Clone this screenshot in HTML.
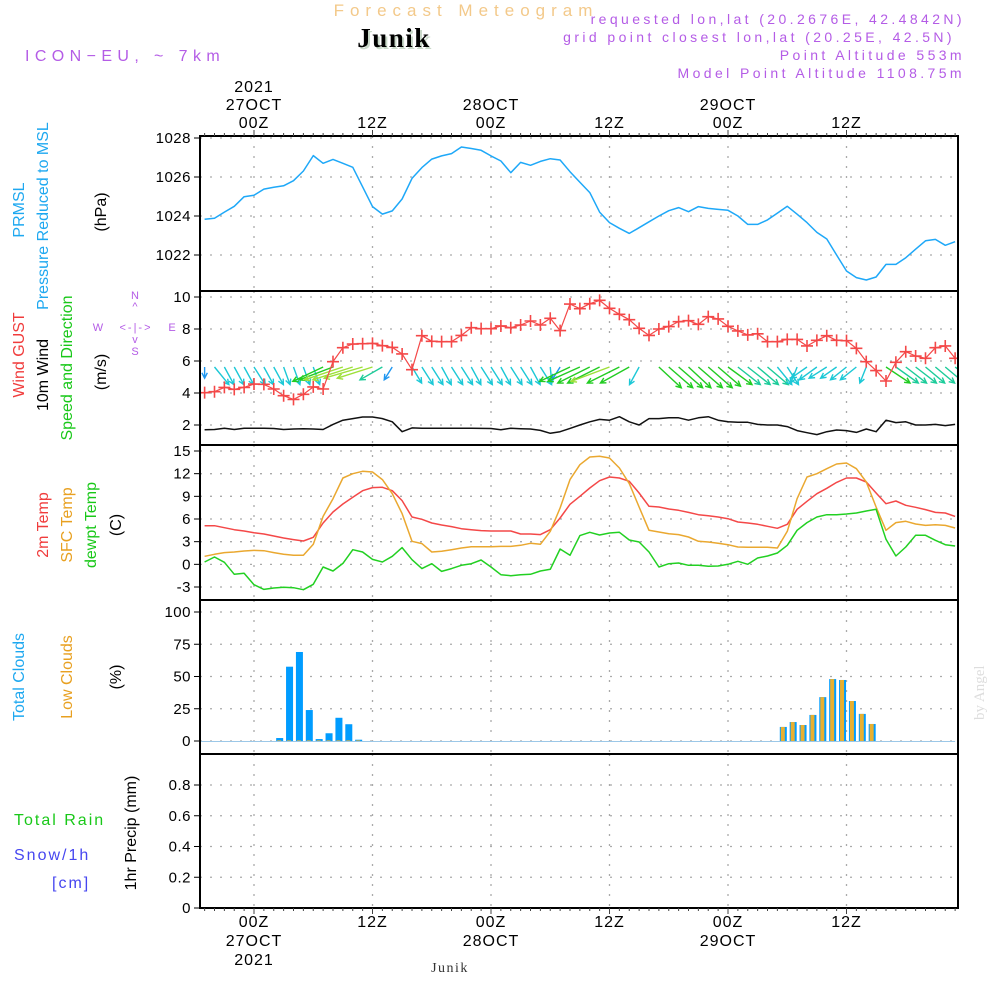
<!DOCTYPE html>
<html><head><meta charset="utf-8"><style>
html,body{margin:0;padding:0;background:#fff;}
svg{display:block;font-family:"Liberation Sans",sans-serif;}
</style></head><body>
<svg id="chart" width="1000" height="1000" viewBox="0 0 1000 1000">
<defs><clipPath id="plotclip"><rect x="200" y="136" width="758" height="772"/></clipPath></defs>
<g id="titles">
<text x="466" y="16" text-anchor="middle" font-size="17" fill="#f3c98a" letter-spacing="6">Forecast Meteogram</text>
<text x="396" y="49" text-anchor="middle" font-size="27" font-weight="bold" font-family="Liberation Serif,serif" fill="#c9d9c9" letter-spacing="1.5">Junik</text>
<text x="394" y="47" text-anchor="middle" font-size="27" font-weight="bold" font-family="Liberation Serif,serif" fill="#000" letter-spacing="1.5">Junik</text>
<text x="25" y="61" font-size="16" fill="#b45ce6" letter-spacing="5.4">ICON−EU, ~ 7km</text>
<text x="965" y="24" text-anchor="end" font-size="14" fill="#b45ce6" letter-spacing="3.4">requested lon,lat (20.2676E, 42.4842N)</text>
<text x="955" y="42" text-anchor="end" font-size="14" fill="#b45ce6" letter-spacing="3.4">grid point closest lon,lat (20.25E, 42.5N)</text>
<text x="965" y="60" text-anchor="end" font-size="14" fill="#b45ce6" letter-spacing="3.4">Point Altitude 553m</text>
<text x="965" y="78" text-anchor="end" font-size="14" fill="#b45ce6" letter-spacing="3.4">Model Point Altitude 1108.75m</text>
<text x="450" y="972" text-anchor="middle" font-size="14" font-family="Liberation Serif,serif" fill="#333" letter-spacing="1.5">Junik</text>
<text transform="translate(984,720) rotate(-90)" font-size="15" font-family="Liberation Serif,serif" fill="#ddd">by Angel</text>
</g>
<g id="leftlabels" font-size="16">
<text transform="translate(24,210) rotate(-90)" text-anchor="middle" fill="#1ea8f0">PRMSL</text>
<text transform="translate(48,216) rotate(-90)" text-anchor="middle" fill="#1ea8f0">Pressure Reduced to MSL</text>
<text transform="translate(106,212) rotate(-90)" text-anchor="middle" fill="#000">(hPa)</text>
<text transform="translate(24,355) rotate(-90)" text-anchor="middle" fill="#f03c3c">Wind GUST</text>
<text transform="translate(48,375) rotate(-90)" text-anchor="middle" fill="#000">10m Wind</text>
<text transform="translate(72,368) rotate(-90)" text-anchor="middle" fill="#19c819">Speed and Direction</text>
<text transform="translate(106,372) rotate(-90)" text-anchor="middle" fill="#000">(m/s)</text>
<g fill="#b45ce6" font-size="11">
<text x="135" y="299" text-anchor="middle">N</text><text x="135" y="310" text-anchor="middle">^</text>
<text x="136" y="331" text-anchor="middle" letter-spacing="2">&lt;-|-&gt;</text>
<text x="98" y="331" text-anchor="middle">W</text><text x="172" y="331" text-anchor="middle">E</text>
<text x="135" y="343" text-anchor="middle">v</text><text x="135" y="355" text-anchor="middle">S</text>
</g>
<text transform="translate(48,525) rotate(-90)" text-anchor="middle" fill="#f03c3c">2m Temp</text>
<text transform="translate(72,525) rotate(-90)" text-anchor="middle" fill="#e8a020">SFC Temp</text>
<text transform="translate(96,525) rotate(-90)" text-anchor="middle" fill="#19c819">dewpt Temp</text>
<text transform="translate(121,525) rotate(-90)" text-anchor="middle" fill="#000">(C)</text>
<text transform="translate(24,677) rotate(-90)" text-anchor="middle" fill="#1ea8f0">Total Clouds</text>
<text transform="translate(72,677) rotate(-90)" text-anchor="middle" fill="#e8a020">Low Clouds</text>
<text transform="translate(121,677) rotate(-90)" text-anchor="middle" fill="#000">(%)</text>
<text x="14" y="825" fill="#19c819" letter-spacing="2">Total  Rain</text>
<text x="14" y="860" fill="#4646f0" letter-spacing="2">Snow/1h</text>
<text x="52" y="888" fill="#4646f0" letter-spacing="2">[cm]</text>
<text transform="translate(136,833) rotate(-90)" text-anchor="middle" fill="#000">1hr Precip (mm)</text>
</g>
<g id="grid"></g>
<g id="marks" clip-path="url(#plotclip)"></g>
<g id="axes"></g>
</svg>
<script>
// ---- data (hourly, first value at hour -5 relative to 27OCT 00Z) ----
const startHour = -5;
const dayTicks = [0, 12, 24, 36, 48, 60];
const topTickLabels = ["00Z", "12Z", "00Z", "12Z", "00Z", "12Z"];
const dateLabels = ["27OCT", "", "28OCT", "", "29OCT", ""];
const pressureTicks = [1022, 1024, 1026, 1028];
const windTicks = [2, 4, 6, 8, 10];
const tempTicks = [-3, 0, 3, 6, 9, 12, 15];
const cloudTicks = [0, 25, 50, 75, 100];
const precipTicks = [0, 0.2, 0.4, 0.6, 0.8];

const pressure = [1023.83,1023.88,1024.2,1024.5,1024.99,1025.06,1025.38,1025.47,1025.55,1025.81,1026.31,1027.1,1026.7,1026.9,1026.7,1026.5,1025.5,1024.48,1024.1,1024.26,1024.87,1025.93,1026.48,1026.92,1027.08,1027.2,1027.54,1027.46,1027.37,1027.08,1026.82,1026.22,1026.75,1026.6,1026.8,1026.94,1026.87,1026.27,1025.73,1025.2,1024.2,1023.66,1023.37,1023.11,1023.4,1023.7,1024.0,1024.27,1024.43,1024.22,1024.48,1024.39,1024.34,1024.29,1024.0,1023.57,1023.57,1023.8,1024.15,1024.5,1024.09,1023.66,1023.16,1022.82,1022.0,1021.18,1020.84,1020.72,1020.87,1021.52,1021.52,1021.86,1022.3,1022.73,1022.8,1022.5,1022.68];
const gust = [4.02,4.08,4.35,4.23,4.35,4.56,4.54,4.25,3.83,3.6,3.92,4.38,4.25,5.96,6.83,7.06,7.08,7.1,6.96,6.85,6.44,5.46,7.58,7.23,7.21,7.21,7.6,8.08,8.02,8.02,8.19,8.08,8.25,8.5,8.25,8.67,7.9,9.56,9.27,9.58,9.79,9.29,8.92,8.58,8.04,7.6,8.0,8.15,8.46,8.52,8.29,8.77,8.63,8.17,7.88,7.63,7.7,7.21,7.21,7.35,7.35,6.94,7.29,7.58,7.29,7.27,6.79,5.96,5.4,4.75,5.92,6.58,6.31,6.17,6.83,6.94,6.17];
const wind10 = [1.7,1.72,1.8,1.72,1.8,1.8,1.8,1.78,1.72,1.75,1.76,1.75,1.72,2.04,2.3,2.4,2.5,2.5,2.4,2.2,1.58,1.82,1.8,1.8,1.8,1.8,1.8,1.8,1.79,1.78,1.7,1.8,1.77,1.75,1.66,1.48,1.58,1.79,2.0,2.2,2.35,2.3,2.52,2.2,2.0,2.4,2.4,2.45,2.45,2.3,2.45,2.52,2.3,2.2,2.17,2.17,2.04,2.0,2.0,1.9,1.65,1.52,1.4,1.58,1.69,1.65,1.54,1.75,1.58,2.3,2.15,2.2,2.0,2.0,2.04,1.96,2.04];
const windU = [0,0.9,0.6,0.6,0.6,0.7,0.6,0.6,0.4,0.4,0.4,0.4,-1.9,-2.1,-2.4,-2.5,-2.4,-2.2,-1.4,-0.5,0,0.6,0.7,0.7,0.6,0.7,0.7,0.6,0.7,0.7,0.6,0.7,0.7,0.6,0.7,0.1,-0.5,-1.9,-2.0,-2.0,-2.0,-2.4,-2.0,-1.8,-0.6,0,1.4,1.5,1.5,1.4,1.5,1.5,1.4,1.5,1.4,1.4,1.3,1.3,0.9,0.7,-0.4,-1.0,-1.1,-1.1,-1.0,-1.0,-1.0,-0.4,0,1.5,1.4,1.3,1.3,1.2,1.2,1.2,1.3];
const windV = [-0.7,-1.1,-1.1,-1.1,-1.1,-1.1,-1.1,-1.1,-1.1,-1.1,-1.1,-1.1,-0.9,-0.8,-0.8,-0.8,-0.7,-0.7,-0.8,-0.8,0,-1.0,-1.1,-1.1,-1.1,-1.1,-1.1,-1.1,-1.1,-1.1,-1.1,-1.1,-1.1,-1.1,-1.1,-1.0,-0.8,-0.9,-0.9,-1.0,-1.0,-0.9,-1.0,-1.0,-1.1,0,-1.3,-1.3,-1.3,-1.3,-1.3,-1.3,-1.2,-1.1,-1.1,-1.1,-1.1,-1.1,-1.1,-1.1,-1.0,-0.7,-0.8,-0.7,-0.7,-0.8,-0.8,-1.0,0,-1.0,-1.0,-1.0,-1.0,-1.0,-1.0,-1.0,-1.0];
const temp2m = [5.12,5.12,4.85,4.59,4.41,4.19,4.02,3.75,3.49,3.27,3.09,3.58,5.47,6.93,7.99,8.87,9.75,10.15,10.19,9.75,8.43,6.27,5.96,5.47,5.21,4.99,4.72,4.59,4.46,4.41,4.41,4.41,4.02,4.02,3.93,4.59,6.13,7.94,9.0,10.1,11.07,11.56,11.43,10.99,9.44,7.68,7.59,7.32,7.15,6.88,6.57,6.44,6.27,6.04,5.6,5.47,5.3,5.03,4.77,5.3,7.28,8.34,9.35,10.06,10.85,11.43,11.43,10.9,9.44,8.03,8.38,7.81,7.55,7.24,6.88,6.8,6.35];
const sfcTemp = [1.06,1.33,1.55,1.63,1.77,1.85,1.81,1.55,1.33,1.19,1.19,2.65,6.35,8.69,11.43,12.0,12.31,12.22,11.21,9.35,6.71,3.05,2.74,1.63,1.72,1.94,2.16,2.34,2.34,2.34,2.38,2.38,2.52,2.78,2.65,4.37,7.46,11.21,13.19,14.2,14.3,14.07,12.75,10.68,7.59,4.5,4.28,4.06,3.93,3.62,3.05,2.96,2.78,2.6,2.3,2.25,2.25,2.25,2.16,4.37,8.69,11.56,12.0,12.66,13.28,13.41,12.66,10.9,7.59,4.5,5.52,5.69,5.34,5.16,5.25,5.16,4.81];
const dewpt = [0.31,0.97,0.27,-1.32,-1.19,-2.69,-3.31,-3.13,-3.04,-3.09,-3.35,-2.64,-0.35,-0.88,0.13,1.94,1.63,0.66,0.31,1.06,2.21,0.62,-0.57,0.09,-0.93,-0.57,-0.13,0.09,0.57,-0.35,-1.37,-1.5,-1.37,-1.32,-0.88,-0.66,2.03,1.19,3.8,4.24,3.88,4.15,4.24,3.22,2.96,1.63,-0.35,0.09,0.18,-0.13,-0.13,-0.26,-0.22,0,0.4,0,0.84,1.1,1.5,2.52,4.5,5.52,6.27,6.57,6.57,6.66,6.8,7.06,7.28,3.31,1.1,2.3,3.84,3.84,3.18,2.6,2.43];
const totalClouds = [0,0,0,0,0,0,0,0,2.3,57.6,69,24,1.5,6,18,13,1,0,0,0,0,0,0,0,0,0,0,0,0,0,0,0,0,0,0,0,0,0,0,0,0,0,0,0,0,0,0,0,0,0,0,0,0,0,0,0,0,0,0,10.9,14.7,12.4,20.2,34,48,47.3,31,21,13.2,0,0,0,0,0,0,0,0];
const lowClouds = [0,0,0,0,0,0,0,0,0.5,0.5,0.5,0.5,0.5,0.5,0.5,0.5,0.5,0,0,0,0,0,0,0,0,0,0,0,0,0,0,0,0,0,0,0,0,0,0,0,0,0,0,0,0,0,0,0,0,0,0,0,0,0,0,0,0,0,0,10.9,14.7,12.4,20.2,34,48,47.3,31,21,13.2,0,0,0,0,0,0,0,0];
const precip = [0,0,0,0,0,0,0,0,0,0,0,0,0,0,0,0,0,0,0,0,0,0,0,0,0,0,0,0,0,0,0,0,0,0,0,0,0,0,0,0,0,0,0,0,0,0,0,0,0,0,0,0,0,0,0,0,0,0,0,0,0,0,0,0,0,0,0,0,0,0,0,0,0,0,0,0,0];

// ---- scales ----
const X0 = 200, X1 = 958;
const xH = h => 254 + h * 9.875;
const yP = v => 138 + (1028 - v) * 19.5;
const yW = v => 297 + (10 - v) * 16;
const yT = v => 451 + (15 - v) * 7.556;
const yC = v => 741 - v * 1.29;
const yR = v => 908 - v * 153.75;
const panels = [
  {top:136,bot:291,ticks:pressureTicks,y:yP,fmt:v=>String(v),name:'pressure'},
  {top:291,bot:445,ticks:windTicks,y:yW,fmt:v=>String(v),name:'wind'},
  {top:445,bot:600,ticks:tempTicks,y:yT,fmt:v=>String(v),name:'temp'},
  {top:600,bot:754,ticks:cloudTicks,y:yC,fmt:v=>String(v),name:'clouds'},
  {top:754,bot:908,ticks:precipTicks,y:yR,fmt:v=>v===0?'0':v.toFixed(1),name:'precip'}
];
const NS = 'http://www.w3.org/2000/svg';
function mk(tag, attrs, parent) {
  const e = document.createElementNS(NS, tag);
  for (const k in attrs) e.setAttribute(k, attrs[k]);
  parent.appendChild(e);
  return e;
}
const grid = document.getElementById('grid');
const marks = document.getElementById('marks');
const axes = document.getElementById('axes');

panels.forEach(p => {
  dayTicks.forEach(h => {
    const l = mk('line', {x1:xH(h), x2:xH(h), y1:p.top, y2:p.bot, stroke:'#aaa', 'stroke-width':1.3, 'stroke-dasharray':'2,8'}, grid);
    
    
  });
  p.ticks.forEach(v => {
    const y = p.y(v);
    const g = mk('line', {x1:X0, x2:X1, y1:y, y2:y, stroke:'#aaa', 'stroke-width':1.3, 'stroke-dasharray':'2,8'}, grid);
    
    
    mk('line', {x1:X0-6, x2:X0, y1:y, y2:y, stroke:'#000', 'stroke-width':1}, axes);
    const t = mk('text', {x:X0-9, y:y+5, 'text-anchor':'end', 'font-size':15, fill:'#000', 'letter-spacing':0.5}, axes);
    t.textContent = p.fmt(v);
    
    
  });
  const r = mk('rect', {x:X0, y:p.top, width:X1-X0, height:p.bot-p.top, fill:'none', stroke:'#000', 'stroke-width':2}, axes);
  
  
});
for (let h = startHour; h <= 71; h++) {
  const len = (h % 12 === 0) ? 6 : 3;
  mk('line', {x1:xH(h), x2:xH(h), y1:136, y2:136 - len, stroke:'#444', 'stroke-width':1}, axes);
  mk('line', {x1:xH(h), x2:xH(h), y1:908, y2:908 + len, stroke:'#444', 'stroke-width':1}, axes);
}
dayTicks.forEach((h, i) => {
  const t1 = mk('text', {x:xH(h), y:128, 'text-anchor':'middle', 'font-size':16, fill:'#000', 'letter-spacing':1}, axes);
  t1.textContent = topTickLabels[i];
  
  
  const b1 = mk('text', {x:xH(h), y:927, 'text-anchor':'middle', 'font-size':16, fill:'#000', 'letter-spacing':1}, axes);
  b1.textContent = topTickLabels[i];
  
  
  if (dateLabels[i]) {
    const t2 = mk('text', {x:xH(h), y:110, 'text-anchor':'middle', 'font-size':16, fill:'#000', 'letter-spacing':1}, axes);
    t2.textContent = dateLabels[i];
    
    
    const b2 = mk('text', {x:xH(h), y:946, 'text-anchor':'middle', 'font-size':16, fill:'#000', 'letter-spacing':1}, axes);
    b2.textContent = dateLabels[i];
    
    
  }
});
[[92,'top-year-label'],[965,'bottom-year-label']].forEach(([y, n]) => {
  const t = mk('text', {x:xH(0), y:y, 'text-anchor':'middle', 'font-size':16, fill:'#000', 'letter-spacing':1}, axes);
  t.textContent = '2021';
  
  
});

function line(arr, yf, color, name, w) {
  const pts = arr.map((v, i) => xH(startHour + i).toFixed(1) + ',' + yf(v).toFixed(1)).join(' ');
  const pl = mk('polyline', {points:pts, fill:'none', stroke:color, 'stroke-width':w || 1.5, 'stroke-linejoin':'round'}, marks);
  
  
}
line(pressure, yP, '#1ea8f8', 'pressure-line');
line(wind10, yW, '#111', 'wind10m-line');
function windColor(s) {
  if (s < 1.0) return '#1e96f0';
  if (s < 1.5) return '#1cc8d6';
  if (s < 1.8) return '#1ccc9a';
  if (s < 2.3) return '#22cc22';
  return '#9ee03a';
}
windU.forEach((u, i) => {
  const v = windV[i];
  const s = Math.hypot(u, v);
  if (s === 0) return;
  const x = xH(startHour + i), y = 367;
  const dx = u * 16, dy = -v * 16;
  const ang = Math.atan2(dy, dx);
  const hx = x + dx, hy = y + dy;
  const a1 = ang + Math.PI * 0.85, a2 = ang - Math.PI * 0.85;
  const d = `M${x},${y}L${hx},${hy}M${hx + 6*Math.cos(a1)},${hy + 6*Math.sin(a1)}L${hx},${hy}L${hx + 6*Math.cos(a2)},${hy + 6*Math.sin(a2)}`;
  const a = mk('path', {d:d, fill:'none', stroke:windColor(s), 'stroke-width':1.4}, marks);
  
  
});
line(gust, yW, '#f44848', 'gust-line', 1.2);
gust.forEach((v, i) => {
  const x = xH(startHour + i), y = yW(v);
  const g = mk('path', {d:`M${x-6},${y}H${x+6}M${x},${y-6}V${y+6}`, stroke:'#f44848', 'stroke-width':1.6}, marks);
  
  
});
line(temp2m, yT, '#f44848', 'temp2m-line');
line(sfcTemp, yT, '#eaa830', 'sfc-temp-line');
line(dewpt, yT, '#22d022', 'dewpt-line');

totalClouds.forEach((v, i) => {
  const cx = xH(startHour + i - 0.4);
  const bt = mk('rect', {x:cx-3.5, y:yC(v), width:7, height:Math.max(yC(0)-yC(v), 0), fill:'#009cff'}, marks);
  
  
  const lv = lowClouds[i];
  const bl = mk('rect', {x:cx-2.5, y:yC(lv), width:4, height:Math.max(yC(0)-yC(lv), 0), fill:'#e8b030'}, marks);
  
  
});
const zl = mk('line', {x1:X0, x2:xH(71), y1:yC(0)+0.5, y2:yC(0)+0.5, stroke:'#9cc8e8', 'stroke-width':1}, marks);


precip.forEach((v, i) => {
  if (v <= 0) return;
  const cx = xH(startHour + i - 0.4);
  const b = mk('rect', {x:cx-3.5, y:yR(v), width:7, height:yR(0)-yR(v), fill:'#22cc22'}, marks);
  
  
});
</script>
</body></html>
